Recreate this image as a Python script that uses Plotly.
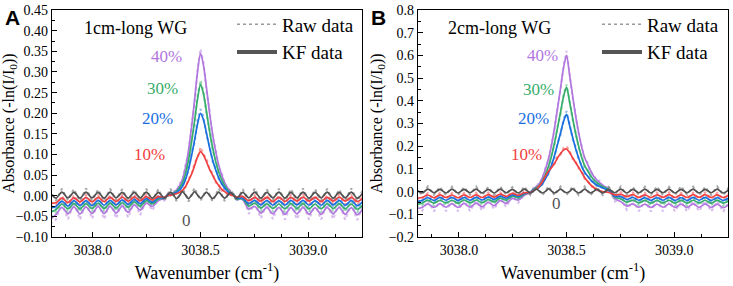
import numpy as np
import plotly.graph_objects as go
from plotly.subplots import make_subplots

# ---- wavenumber sampling grid (cm^-1) ----
x_left = np.round(3037.800 + 0.028 * np.arange(20), 3)
x_peak = np.round(3038.346 + 0.014 * np.arange(23), 3)
x_right = np.round(3038.668 + 0.028 * np.arange(22), 3)
wavenumber = np.concatenate([x_left, x_peak, x_right])

labels = ["0", "10%", "20%", "30%", "40%"]
colors = ["#515151", "#F14040", "#1A6FDF", "#37AD6B", "#B177DE"]

# ---------------- Panel A : 1cm-long WG ----------------
a_gray_kf = [0.008,-0.006,0.009,-0.005,0.008,-0.006,0.009,-0.005,0.008,-0.006,0.009,-0.005,0.008,-0.006,0.008,-0.005,0.009,-0.006,0.008,-0.006,
             0.001,0.009,0.002,-0.007,0.000,0.010,0.002,-0.007,0.001,0.010,0.002,-0.006,0.001,0.009,0.001,-0.007,0.000,0.009,0.001,-0.006,0.001,0.008,0.001,
             -0.006,0.008,-0.005,0.009,-0.006,0.008,-0.005,0.009,-0.006,0.008,-0.005,0.009,-0.006,0.008,-0.005,0.009,-0.006,0.008,-0.005,0.009,-0.006,0.008]
a_gray_raw = [0.015,-0.012,0.017,-0.011,0.016,-0.013,0.018,-0.012,0.015,-0.013,0.017,-0.011,0.016,-0.012,0.015,-0.013,0.017,-0.012,0.016,-0.013,
              0.002,0.017,0.003,-0.013,0.001,0.018,0.004,-0.014,0.002,0.019,0.003,-0.012,0.001,0.017,0.002,-0.014,0.001,0.018,0.003,-0.013,0.002,0.016,0.001,
              -0.013,0.016,-0.012,0.018,-0.013,0.015,-0.011,0.017,-0.013,0.016,-0.012,0.018,-0.014,0.016,-0.012,0.017,-0.013,0.015,-0.012,0.018,-0.013,0.016]
a_red_kf = [-0.018,-0.017,-0.006,-0.016,-0.005,-0.015,-0.004,-0.015,-0.004,-0.014,-0.004,-0.014,-0.003,-0.013,-0.003,-0.012,-0.002,-0.010,-0.002,-0.004,
            0.000,0.001,0.003,0.005,0.008,0.013,0.022,0.036,0.052,0.072,0.094,0.107,0.098,0.082,0.064,0.050,0.036,0.025,0.016,0.010,0.005,0.002,0.000,
            -0.003,-0.002,-0.012,-0.004,-0.013,-0.004,-0.014,-0.004,-0.014,-0.004,-0.013,-0.003,-0.013,-0.004,-0.014,-0.004,-0.013,-0.003,-0.013,-0.004,-0.014,-0.005]
a_red_raw = [-0.026,-0.022,0.000,-0.022,0.001,-0.021,0.002,-0.022,0.001,-0.020,0.002,-0.021,0.002,-0.019,0.003,-0.018,0.003,-0.015,0.002,-0.008,
             0.002,0.003,0.001,0.008,0.006,0.018,0.020,0.042,0.050,0.080,0.092,0.118,0.100,0.090,0.062,0.056,0.032,0.030,0.012,0.014,0.002,0.004,-0.002,
             -0.008,0.002,-0.020,0.001,-0.021,0.002,-0.022,0.001,-0.021,0.002,-0.020,0.003,-0.021,0.001,-0.022,0.002,-0.020,0.003,-0.021,0.001,-0.022,0.000]
a_blue_kf = [-0.030,-0.026,-0.013,-0.025,-0.012,-0.024,-0.012,-0.024,-0.011,-0.023,-0.011,-0.022,-0.010,-0.021,-0.009,-0.019,-0.007,-0.016,-0.005,-0.005,
             0.000,0.002,0.005,0.008,0.014,0.023,0.039,0.064,0.096,0.134,0.174,0.200,0.183,0.151,0.116,0.087,0.063,0.044,0.029,0.019,0.010,0.005,0.001,
             -0.006,-0.006,-0.019,-0.011,-0.022,-0.011,-0.023,-0.012,-0.023,-0.011,-0.022,-0.011,-0.023,-0.012,-0.023,-0.011,-0.022,-0.011,-0.023,-0.012,-0.024,-0.013]
a_blue_raw = [-0.040,-0.032,-0.006,-0.031,-0.005,-0.030,-0.005,-0.031,-0.004,-0.029,-0.004,-0.029,-0.003,-0.027,-0.003,-0.025,-0.002,-0.022,-0.001,-0.009,
              0.002,0.000,0.008,0.006,0.018,0.020,0.045,0.060,0.104,0.128,0.182,0.210,0.190,0.145,0.122,0.082,0.068,0.040,0.033,0.015,0.012,0.002,0.003,
              -0.010,0.000,-0.026,-0.005,-0.029,-0.004,-0.030,-0.005,-0.030,-0.004,-0.029,-0.004,-0.030,-0.005,-0.031,-0.004,-0.029,-0.004,-0.030,-0.005,-0.031,-0.006]
a_green_kf = [-0.040,-0.034,-0.020,-0.032,-0.019,-0.032,-0.019,-0.031,-0.018,-0.031,-0.018,-0.030,-0.017,-0.028,-0.015,-0.025,-0.012,-0.020,-0.008,-0.005,
              0.000,0.003,0.006,0.011,0.019,0.031,0.053,0.086,0.129,0.180,0.234,0.270,0.246,0.203,0.156,0.117,0.084,0.058,0.039,0.025,0.014,0.006,0.002,
              -0.007,-0.008,-0.025,-0.018,-0.030,-0.019,-0.031,-0.020,-0.032,-0.019,-0.031,-0.019,-0.032,-0.020,-0.032,-0.019,-0.031,-0.019,-0.032,-0.020,-0.033,-0.021]
a_green_raw = [-0.050,-0.041,-0.013,-0.040,-0.012,-0.040,-0.012,-0.039,-0.011,-0.039,-0.011,-0.038,-0.010,-0.036,-0.009,-0.032,-0.006,-0.026,-0.003,-0.009,
               0.003,0.001,0.010,0.008,0.024,0.028,0.060,0.080,0.136,0.172,0.242,0.280,0.252,0.196,0.162,0.110,0.090,0.052,0.044,0.020,0.018,0.003,0.004,
               -0.012,-0.002,-0.032,-0.011,-0.038,-0.012,-0.039,-0.013,-0.040,-0.012,-0.039,-0.012,-0.040,-0.013,-0.040,-0.012,-0.039,-0.012,-0.040,-0.013,-0.041,-0.014]
a_purple_kf = [-0.058,-0.046,-0.028,-0.044,-0.027,-0.044,-0.027,-0.043,-0.026,-0.043,-0.026,-0.042,-0.025,-0.040,-0.022,-0.035,-0.018,-0.026,-0.012,-0.005,
               0.000,0.004,0.008,0.014,0.024,0.040,0.068,0.110,0.165,0.230,0.300,0.345,0.315,0.260,0.200,0.150,0.108,0.075,0.050,0.032,0.018,0.008,0.002,
               -0.004,-0.010,-0.032,-0.026,-0.042,-0.028,-0.044,-0.028,-0.045,-0.029,-0.044,-0.028,-0.045,-0.029,-0.045,-0.028,-0.044,-0.028,-0.045,-0.029,-0.046,-0.030]
a_purple_raw = [-0.068,-0.058,-0.018,-0.057,-0.017,-0.058,-0.016,-0.056,-0.016,-0.057,-0.015,-0.055,-0.015,-0.053,-0.013,-0.047,-0.010,-0.036,-0.006,-0.012,
                0.004,0.000,0.013,0.010,0.030,0.036,0.076,0.102,0.172,0.224,0.308,0.356,0.322,0.252,0.208,0.142,0.116,0.068,0.058,0.026,0.024,0.004,0.006,
                -0.012,-0.002,-0.044,-0.018,-0.055,-0.019,-0.057,-0.018,-0.058,-0.020,-0.057,-0.019,-0.058,-0.020,-0.058,-0.019,-0.057,-0.018,-0.058,-0.020,-0.059,-0.021]

# ---------------- Panel B : 2cm-long WG ----------------
b_gray_kf = [0.010,-0.006,0.011,-0.005,0.010,-0.006,0.011,-0.006,0.010,-0.005,0.011,-0.006,0.010,-0.006,0.011,-0.005,0.010,-0.006,0.011,-0.006,
             0.002,0.011,0.002,-0.006,0.001,0.012,0.003,-0.006,0.002,0.011,0.002,-0.005,0.001,0.012,0.002,-0.006,0.001,0.011,0.002,-0.006,0.001,0.010,0.002,
             -0.006,0.010,-0.005,0.011,-0.006,0.010,-0.005,0.011,-0.006,0.010,-0.005,0.011,-0.006,0.010,-0.005,0.011,-0.006,0.010,-0.005,0.011,-0.006,0.010]
b_gray_raw = [0.020,-0.015,0.023,-0.014,0.021,-0.016,0.022,-0.015,0.020,-0.014,0.023,-0.016,0.021,-0.015,0.022,-0.014,0.020,-0.016,0.023,-0.015,
              0.003,0.022,0.004,-0.015,0.002,0.024,0.004,-0.016,0.003,0.022,0.002,-0.014,0.002,0.023,0.003,-0.015,0.001,0.022,0.004,-0.016,0.002,0.021,0.003,
              -0.015,0.021,-0.014,0.023,-0.016,0.020,-0.015,0.022,-0.014,0.023,-0.016,0.021,-0.015,0.024,-0.014,0.022,-0.016,0.021,-0.015,0.023,-0.016,0.022]
b_red_kf = [-0.030,-0.026,-0.015,-0.027,-0.014,-0.026,-0.015,-0.027,-0.014,-0.026,-0.014,-0.026,-0.013,-0.024,-0.011,-0.021,-0.008,-0.016,-0.005,-0.004,
            0.004,0.012,0.024,0.044,0.068,0.090,0.105,0.125,0.148,0.168,0.183,0.188,0.172,0.150,0.128,0.108,0.085,0.062,0.045,0.030,0.018,0.010,0.004,
            0.000,-0.004,-0.014,-0.012,-0.022,-0.013,-0.025,-0.014,-0.026,-0.014,-0.025,-0.013,-0.026,-0.014,-0.026,-0.013,-0.025,-0.013,-0.026,-0.014,-0.026,-0.014]
b_red_raw = [-0.038,-0.033,-0.006,-0.034,-0.005,-0.033,-0.006,-0.035,-0.005,-0.033,-0.005,-0.034,-0.004,-0.031,-0.003,-0.028,-0.001,-0.022,0.000,-0.008,
             0.006,0.010,0.030,0.040,0.076,0.086,0.112,0.120,0.156,0.162,0.192,0.200,0.180,0.144,0.134,0.102,0.090,0.056,0.050,0.024,0.022,0.006,0.007,
             -0.004,0.004,-0.024,-0.002,-0.031,-0.004,-0.034,-0.005,-0.035,-0.004,-0.033,-0.003,-0.034,-0.005,-0.035,-0.004,-0.033,-0.003,-0.034,-0.005,-0.035,-0.005]
b_blue_kf = [-0.044,-0.039,-0.027,-0.039,-0.026,-0.038,-0.026,-0.039,-0.026,-0.038,-0.025,-0.037,-0.024,-0.034,-0.020,-0.029,-0.014,-0.021,-0.008,-0.003,
             0.007,0.012,0.020,0.035,0.056,0.082,0.115,0.159,0.207,0.258,0.309,0.340,0.292,0.241,0.190,0.149,0.112,0.085,0.068,0.052,0.039,0.029,0.023,
             0.016,0.005,-0.020,-0.022,-0.034,-0.026,-0.038,-0.027,-0.039,-0.027,-0.038,-0.026,-0.039,-0.027,-0.039,-0.026,-0.038,-0.026,-0.039,-0.027,-0.039,-0.027]
b_blue_raw = [-0.054,-0.048,-0.018,-0.049,-0.017,-0.047,-0.017,-0.048,-0.016,-0.047,-0.016,-0.046,-0.015,-0.043,-0.012,-0.037,-0.007,-0.028,-0.002,-0.008,
              0.010,0.009,0.025,0.030,0.062,0.076,0.122,0.150,0.216,0.250,0.318,0.355,0.300,0.232,0.198,0.140,0.118,0.078,0.074,0.046,0.044,0.024,0.027,
              0.012,0.012,-0.028,-0.014,-0.043,-0.017,-0.047,-0.018,-0.048,-0.017,-0.047,-0.016,-0.048,-0.018,-0.048,-0.017,-0.047,-0.016,-0.048,-0.018,-0.049,-0.018]
b_green_kf = [-0.058,-0.051,-0.039,-0.051,-0.038,-0.050,-0.038,-0.051,-0.037,-0.050,-0.037,-0.049,-0.035,-0.045,-0.029,-0.038,-0.020,-0.027,-0.011,-0.003,
              0.009,0.017,0.028,0.048,0.075,0.111,0.156,0.215,0.280,0.349,0.418,0.460,0.395,0.326,0.257,0.201,0.151,0.115,0.092,0.071,0.052,0.040,0.031,
              0.022,0.008,-0.024,-0.032,-0.046,-0.038,-0.050,-0.039,-0.051,-0.039,-0.050,-0.038,-0.051,-0.039,-0.051,-0.038,-0.050,-0.038,-0.051,-0.039,-0.051,-0.039]
b_green_raw = [-0.068,-0.062,-0.028,-0.063,-0.027,-0.061,-0.027,-0.062,-0.026,-0.061,-0.026,-0.060,-0.024,-0.056,-0.019,-0.048,-0.013,-0.035,-0.006,-0.008,
               0.012,0.014,0.034,0.042,0.082,0.104,0.164,0.206,0.288,0.340,0.428,0.472,0.402,0.318,0.264,0.194,0.158,0.108,0.098,0.064,0.058,0.034,0.036,
               0.018,0.016,-0.034,-0.022,-0.058,-0.028,-0.061,-0.028,-0.062,-0.029,-0.061,-0.027,-0.062,-0.028,-0.062,-0.027,-0.061,-0.027,-0.062,-0.029,-0.063,-0.028]
b_purple_kf = [-0.076,-0.070,-0.054,-0.070,-0.053,-0.069,-0.053,-0.070,-0.052,-0.069,-0.051,-0.067,-0.048,-0.062,-0.040,-0.052,-0.030,-0.037,-0.016,-0.004,
               0.012,0.022,0.036,0.062,0.098,0.145,0.203,0.280,0.365,0.455,0.545,0.600,0.515,0.425,0.335,0.262,0.197,0.150,0.120,0.092,0.068,0.052,0.040,
               0.028,0.010,-0.030,-0.044,-0.064,-0.054,-0.069,-0.055,-0.070,-0.055,-0.069,-0.054,-0.070,-0.055,-0.070,-0.054,-0.069,-0.054,-0.070,-0.055,-0.071,-0.055]
b_purple_raw = [-0.092,-0.086,-0.040,-0.088,-0.039,-0.086,-0.040,-0.087,-0.038,-0.086,-0.037,-0.084,-0.035,-0.078,-0.029,-0.068,-0.020,-0.050,-0.008,-0.012,
                0.016,0.018,0.044,0.056,0.106,0.138,0.212,0.270,0.374,0.446,0.556,0.620,0.522,0.416,0.344,0.252,0.206,0.142,0.128,0.084,0.076,0.046,0.048,
                0.022,0.018,-0.044,-0.030,-0.080,-0.040,-0.086,-0.040,-0.088,-0.041,-0.087,-0.039,-0.088,-0.041,-0.088,-0.040,-0.087,-0.039,-0.088,-0.041,-0.089,-0.040]

panel_a_kf = [a_gray_kf, a_red_kf, a_blue_kf, a_green_kf, a_purple_kf]
panel_a_raw = [a_gray_raw, a_red_raw, a_blue_raw, a_green_raw, a_purple_raw]
panel_b_kf = [b_gray_kf, b_red_kf, b_blue_kf, b_green_kf, b_purple_kf]
panel_b_raw = [b_gray_raw, b_red_raw, b_blue_raw, b_green_raw, b_purple_raw]

# label anchor positions (data coords) for each series
a_label_pos = [(3038.437, -0.059), (3038.265, 0.101), (3038.302, 0.187), (3038.321, 0.259), (3038.344, 0.338)]
b_label_pos = [(3038.454, -0.052), (3038.315, 0.165), (3038.347, 0.322), (3038.370, 0.452), (3038.389, 0.600)]

SERIF = "Liberation Serif, Times New Roman, DejaVu Serif, serif"
SANS = "Liberation Sans, Arial, sans-serif"
W, H = 733, 286
ML, MR, MT, MB = 52, 5, 7, 49
pw = W - ML - MR
ph = H - MT - MB

fig = make_subplots(rows=1, cols=2)
fig.update_xaxes(domain=[0, 310 / pw], row=1, col=1)
fig.update_xaxes(domain=[366 / pw, 1.0], row=1, col=2)


def rgba(hexc, a):
    h = hexc.lstrip("#")
    return "rgba(%d,%d,%d,%.2f)" % (int(h[0:2], 16), int(h[2:4], 16), int(h[4:6], 16), a)


for col, kf_list, raw_list in [(1, panel_a_kf, panel_a_raw), (2, panel_b_kf, panel_b_raw)]:
    order = [4, 3, 2, 1, 0]
    for i in order:
        fig.add_trace(go.Scatter(x=wavenumber, y=raw_list[i], mode="lines",
                                 line=dict(color=rgba(colors[i], 0.5), width=2, dash="dot"),
                                 showlegend=False, hoverinfo="skip"), row=1, col=col)
    for i in order:
        fig.add_trace(go.Scatter(x=wavenumber, y=kf_list[i], mode="lines",
                                 line=dict(color=colors[i], width=1.7, shape="spline", smoothing=0.8),
                                 showlegend=False, name=labels[i]), row=1, col=col)
    lg = "legend" if col == 1 else "legend2"
    fig.add_trace(go.Scatter(x=[None], y=[None], mode="lines", name="Raw data",
                             line=dict(color="#9a9a9a", width=1.5, dash="dot"), legend=lg), row=1, col=col)
    fig.add_trace(go.Scatter(x=[None], y=[None], mode="lines", name="KF data",
                             line=dict(color="#555555", width=4), legend=lg), row=1, col=col)

axis_common = dict(showline=True, linecolor="black", linewidth=1.3, mirror=True,
                   ticks="inside", ticklen=5, tickwidth=1.2, tickcolor="black",
                   showgrid=False, zeroline=False, automargin=False,
                   tickfont=dict(family=SERIF, size=14, color="black"))

for col in (1, 2):
    fig.update_xaxes(range=[3037.81, 3039.25], tick0=3038.0, dtick=0.5, tickformat=".1f",
                     minor=dict(dtick=0.125, ticks="inside", ticklen=3, tickcolor="black"),
                     title=dict(text="Wavenumber (cm<sup>-1</sup>)", font=dict(family=SERIF, size=18, color="black"), standoff=9),
                     **axis_common, row=1, col=col)

fig.update_yaxes(range=[-0.10, 0.4502], dtick=0.05, tickformat=".2f",
                 minor=dict(dtick=0.025, ticks="inside", ticklen=3, tickcolor="black"),
                 title=dict(text="Absorbance (-ln(I/I<sub>0</sub>))", font=dict(family=SERIF, size=16, color="black"), standoff=2),
                 **axis_common, row=1, col=1)
fig.update_yaxes(range=[-0.2, 0.8003], dtick=0.1, tickformat=".1f",
                 minor=dict(dtick=0.05, ticks="inside", ticklen=3, tickcolor="black"),
                 title=dict(text="Absorbance (-ln(I/I<sub>0</sub>))", font=dict(family=SERIF, size=16, color="black"), standoff=2),
                 **axis_common, row=1, col=2)

annos = []
for xref, yref, pos in [("x", "y", a_label_pos), ("x2", "y2", b_label_pos)]:
    for i, (lx, ly) in enumerate(pos):
        annos.append(dict(x=lx, y=ly, xref=xref, yref=yref, text=labels[i], showarrow=False,
                          font=dict(family=SERIF, size=17, color=colors[i] if i else "#555555")))
annos.append(dict(x=3038.20, y=0.407, xref="x", yref="y", text="1cm-long WG", showarrow=False,
                  font=dict(family=SERIF, size=18, color="black")))
annos.append(dict(x=3038.19, y=0.722, xref="x2", yref="y2", text="2cm-long WG", showarrow=False,
                  font=dict(family=SERIF, size=18, color="black")))
annos.append(dict(x=(3 - ML) / pw, y=(H - MB - 1) / ph, xref="paper", yref="paper", text="<b>A</b>",
                  xanchor="left", yanchor="top", showarrow=False, font=dict(family=SANS, size=21, color="black")))
annos.append(dict(x=(369 - ML) / pw, y=(H - MB - 1) / ph, xref="paper", yref="paper", text="<b>B</b>",
                  xanchor="left", yanchor="top", showarrow=False, font=dict(family=SANS, size=21, color="black")))

legend_style = dict(font=dict(family=SERIF, size=19, color="black"), bgcolor="rgba(0,0,0,0)",
                    yanchor="top", xanchor="left", y=1.02, tracegroupgap=0, itemwidth=40)
fig.update_layout(
    width=W, height=H,
    margin=dict(l=ML, r=MR, t=MT, b=MB),
    plot_bgcolor="white", paper_bgcolor="white",
    annotations=annos,
    legend=dict(x=(232 - ML) / pw, **legend_style),
    legend2=dict(x=(597 - ML) / pw, **legend_style),
)

fig.write_html("out.html", config={"displayModeBar": False},
               post_script="document.body.style.margin='0px';document.body.style.overflow='hidden';")
